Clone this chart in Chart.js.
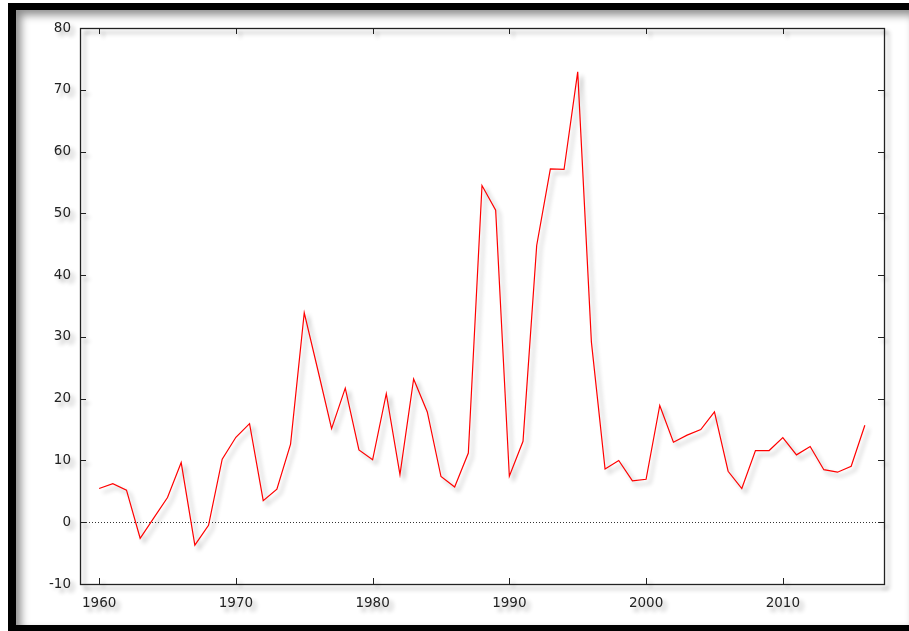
<!DOCTYPE html>
<html>
<head>
<meta charset="utf-8">
<script src="https://cdn.jsdelivr.net/npm/chart.js@4"></script>
<style>
  html, body { margin: 0; padding: 0; background: #fff; }
  #wrap { position: relative; width: 909px; height: 631px; overflow: hidden; }
  #grafico { position: absolute; left: 0; top: 0; }
  /* marco negro con sombra interior */
  #marco {
    position: absolute; left: 8px; top: 3px; width: 901px; height: 628px;
    box-sizing: border-box;
    border-top: 7px solid #000; border-left: 8px solid #000; border-bottom: 6px solid #000;
    box-shadow: inset 5px 5px 8px rgba(0,0,0,0.45);
    pointer-events: none;
  }
</style>
</head>
<body>
<div id="wrap">
  <canvas id="grafico" width="909" height="631"></canvas>
  <div id="marco"></div>
</div>
<script>
// Datos del grafico
const anios = [1960, 1961, 1962, 1963, 1964, 1965, 1966, 1967, 1968, 1969,
    1970, 1971, 1972, 1973, 1974, 1975, 1976, 1977, 1978, 1979,
    1980, 1981, 1982, 1983, 1984, 1985, 1986, 1987, 1988, 1989,
    1990, 1991, 1992, 1993, 1994, 1995, 1996, 1997, 1998, 1999,
    2000, 2001, 2002, 2003, 2004, 2005, 2006, 2007, 2008, 2009,
    2010, 2011, 2012, 2013, 2014, 2015, 2016];
const valores = [5.45, 6.25, 5.2, -2.6, 0.7, 4.0, 9.65, -3.7, -0.5, 10.2,
    13.75, 15.95, 3.5, 5.35, 12.65, 33.9, 24.6, 15.15, 21.7, 11.7,
    10.1, 20.8, 7.7, 23.2, 17.85, 7.4, 5.7, 11.2, 54.5, 50.5,
    7.45, 13.1, 44.8, 57.2, 57.1, 72.9, 29.2, 8.6, 10.0, 6.7,
    6.95, 18.9, 12.95, 14.1, 15.0, 17.85, 8.25, 5.45, 11.6, 11.6,
    13.7, 10.9, 12.25, 8.5, 8.1, 9.05, 15.7];
const ticksX = [1960, 1970, 1980, 1990, 2000, 2010];
const ticksY = [-10, 0, 10, 20, 30, 40, 50, 60, 70, 80];

const fuente = { family: 'DejaVu Sans', size: 13.5 };

// Plugin: sombra general, caja completa, marcas hacia adentro y linea del cero
const estiloGnuplot = {
    id: 'estiloGnuplot',
    beforeDraw(chart) {
        const ctx = chart.ctx;
        ctx.shadowColor = 'rgba(0,0,0,0.32)';
        ctx.shadowBlur = 4;
        ctx.shadowOffsetX = 4;
        ctx.shadowOffsetY = 4;
    },
    beforeDatasetsDraw(chart) {
        const ctx = chart.ctx;
        const a = chart.chartArea;
        const x = chart.scales.x;
        const y = chart.scales.y;
        ctx.save();
        // linea del cero punteada
        ctx.shadowColor = 'rgba(0,0,0,0)';
        ctx.strokeStyle = '#333';
        ctx.lineWidth = 1;
        ctx.setLineDash([1, 2]);
        const y0 = Math.round(y.getPixelForValue(0)) + 0.5;
        ctx.beginPath();
        ctx.moveTo(a.left, y0);
        ctx.lineTo(a.right, y0);
        ctx.stroke();
        ctx.setLineDash([]);
        ctx.restore();

        ctx.save();
        ctx.strokeStyle = '#222';
        ctx.lineWidth = 1;
        ctx.beginPath();
        const l = 6;
        ticksX.forEach(v => {
            const px = Math.round(x.getPixelForValue(v)) + 0.5;
            ctx.moveTo(px, a.bottom); ctx.lineTo(px, a.bottom - l);
            ctx.moveTo(px, a.top); ctx.lineTo(px, a.top + l);
        });
        ticksY.forEach(v => {
            const py = Math.round(y.getPixelForValue(v)) + 0.5;
            ctx.moveTo(a.left, py); ctx.lineTo(a.left + l, py);
            ctx.moveTo(a.right, py); ctx.lineTo(a.right - l, py);
        });
        ctx.stroke();
        ctx.lineWidth = 1.3;
        ctx.strokeRect(a.left + 0.5, a.top + 0.5, a.right - a.left, a.bottom - a.top);
        ctx.restore();
    }
};

const ctx = document.getElementById('grafico').getContext('2d');
new Chart(ctx, {
    type: 'line',
    data: {
        datasets: [{
            data: anios.map((a, i) => ({ x: a, y: valores[i] })),
            borderColor: '#ff0000',
            borderWidth: 1.2,
            pointRadius: 0,
            tension: 0,
            fill: false
        }]
    },
    options: {
        responsive: false,
        animation: false,
        events: [],
        layout: { padding: { left: 0, top: 28, right: 25, bottom: 0 } },
        plugins: { legend: { display: false }, tooltip: { enabled: false } },
        scales: {
            x: {
                type: 'linear',
                min: 1958.6,
                max: 2017.4,
                afterBuildTicks: s => { s.ticks = ticksX.map(v => ({ value: v })); },
                afterFit: s => { s.height = 47; },
                grid: { display: false, drawTicks: false },
                border: { display: false },
                ticks: {
                    color: '#222', font: fuente, padding: 11, maxRotation: 0, autoSkip: false,
                    callback: v => String(v)
                }
            },
            y: {
                min: -10,
                max: 80,
                afterBuildTicks: s => { s.ticks = ticksY.map(v => ({ value: v })); },
                afterFit: s => { s.width = 80; },
                grid: { display: false, drawTicks: false },
                border: { display: false },
                ticks: { color: '#222', font: fuente, padding: 9, callback: v => String(v) }
            }
        }
    },
    plugins: [estiloGnuplot]
});
</script>
</body>
</html>
